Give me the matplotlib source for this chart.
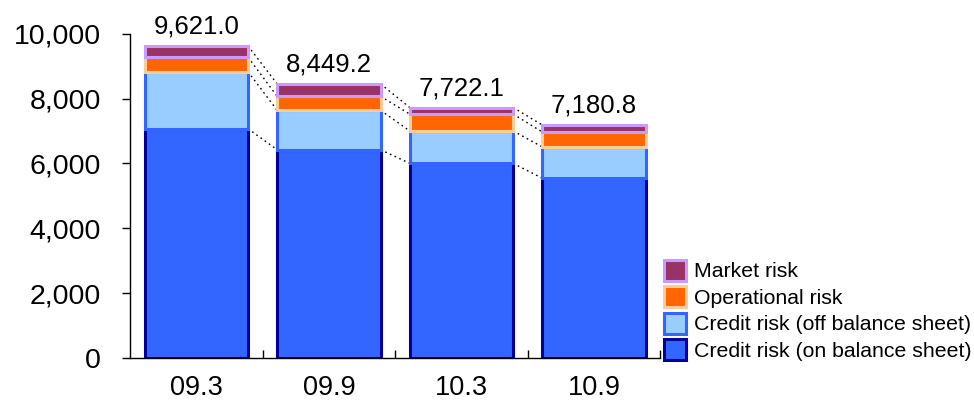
import matplotlib.pyplot as plt
import numpy as np

plt.rcParams['font.family'] = ['Liberation Sans', 'DejaVu Sans']

# risk assets by period (100 million yen)
periods = ["09.3", "09.9", "10.3", "10.9"]
credit_on = [7070.0, 6420.0, 6000.0, 5540.0]
credit_off = [1758.0, 1215.0, 1000.0, 965.0]
operational = [447.0, 432.0, 520.0, 460.0]
market = [346.0, 382.2, 202.1, 215.8]
totals = [9621.0, 8449.2, 7722.1, 7180.8]

series = [
    ("Credit risk (on balance sheet)", credit_on, "#3366FF", "#000099"),
    ("Credit risk (off balance sheet)", credit_off, "#99CCFF", "#3366FF"),
    ("Operational risk", operational, "#FF6600", "#FFCC99"),
    ("Market risk", market, "#993366", "#CC99FF"),
]

fig = plt.figure(figsize=(9.74, 4.03), dpi=100)
ax = fig.add_axes([0.1335, 0.112, 0.5445, 0.8044])

x = np.arange(len(periods))
width = 0.78
bottom = np.zeros(len(periods))
levels = [bottom.copy()]
handles = []
for name, vals, fc, ec in series:
    b = ax.bar(x, vals, width, bottom=bottom, color=fc, edgecolor=ec,
               linewidth=2.2, label=name, zorder=2)
    handles.append(b)
    bottom = bottom + np.array(vals)
    levels.append(bottom.copy())

# dotted links between segment boundaries of neighbouring bars
for lev in levels[1:]:
    for i in range(len(periods) - 1):
        ax.plot([x[i] + width / 2, x[i + 1] - width / 2], [lev[i], lev[i + 1]],
                color="black", linestyle=(0, (1.2, 2.5)), linewidth=1.0, zorder=1)

for i, t in enumerate(totals):
    ax.text(x[i], bottom[i] + 230, f"{t:,.1f}", ha="center", va="bottom", fontsize=18.5)

ax.set_xlim(-0.5, len(periods) - 0.5)
ax.set_ylim(0, 10000)
ax.set_yticks(np.arange(0, 10001, 2000))
ax.set_yticklabels([f"{v:,}" for v in range(0, 10001, 2000)], fontsize=20.5)
ax.tick_params(axis="y", direction="out", length=6, width=1, pad=15)

ax.set_xticks(x)
ax.set_xticklabels(periods, fontsize=19.5)
ax.tick_params(axis="x", which="major", length=0, pad=12)
ax.set_xticks(np.arange(0.5, len(periods), 1.0), minor=True)
ax.tick_params(axis="x", which="minor", direction="in", length=6, width=1)

for side in ["top", "right"]:
    ax.spines[side].set_visible(False)
for side in ["left", "bottom"]:
    ax.spines[side].set_linewidth(1)

ax.legend(handles[::-1], [s[0] for s in series][::-1], loc="lower left",
          bbox_to_anchor=(0.99, -0.035), frameon=False, fontsize=15.3,
          handlelength=1.05, handleheight=1.15, handletextpad=0.4, labelspacing=0.22,
          borderaxespad=0)

fig.savefig("out.png", dpi=100)
